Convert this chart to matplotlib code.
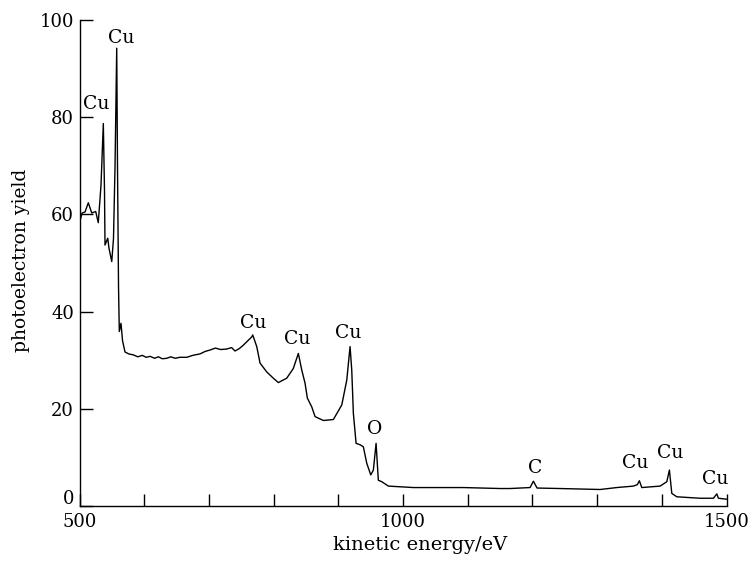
import matplotlib
matplotlib.use("Agg")
import matplotlib.pyplot as plt
from matplotlib.transforms import offset_copy

# Kinetic energy (eV) and photoelectron yield of the survey spectrum
energy = [501, 504, 508.5, 513.6, 518.9, 525, 529, 533.2, 536.8, 538.6,
          539.4, 543.6, 545.6, 549.8, 552.5, 554.9, 557.5, 558.7, 560.3, 561.5,
          564.1, 566.5, 570.3, 576, 583.2, 590, 597, 603, 609, 616,
          622, 628, 634.8, 641, 648, 655, 665.7, 675, 686.2, 694,
          701.7, 710, 718, 727.5, 735, 740.3, 747, 753.2, 760, 766.2,
          767.7, 773.9, 779, 789.3, 799.5, 807.3, 820.2, 830.4, 838.2, 843.4,
          848.5, 852.1, 858.9, 864, 876.8, 892.3, 905.3, 913, 918.1, 920.7,
          923.2, 927.4, 933.6, 938.6, 943.9, 950.1, 954.1, 958.3, 961.8, 967.1,
          977.3, 1015.9, 1093.2, 1149.9, 1165.4, 1196.3, 1201.4, 1207.1, 1242.7, 1304.5,
          1330.3, 1356, 1362, 1365.2, 1368.9, 1397.2, 1407.6, 1411.6, 1415.3, 1423,
          1459, 1479.6, 1484.9, 1487.3, 1500]
yield_ = [58.8, 60.3, 60.5, 62.4, 60.3, 60.6, 58.3, 66.0, 78.7, 65.0,
          53.7, 55.1, 53.0, 50.3, 55.0, 70.0, 94.2, 70.0, 45.0, 35.9,
          37.6, 34.0, 31.7, 31.3, 31.1, 30.7, 31.0, 30.6, 30.8, 30.4,
          30.7, 30.3, 30.4, 30.7, 30.4, 30.6, 30.6, 31.0, 31.3, 31.8,
          32.1, 32.5, 32.2, 32.3, 32.6, 31.9, 32.4, 33.1, 34.0, 34.8,
          35.2, 32.8, 29.4, 27.6, 26.3, 25.4, 26.3, 28.3, 31.4, 28.0,
          25.3, 22.2, 20.4, 18.4, 17.6, 17.8, 20.8, 25.9, 32.8, 28.0,
          19.1, 12.9, 12.6, 12.2, 8.8, 6.4, 7.4, 12.9, 5.3, 5.0,
          4.1, 3.8, 3.8, 3.6, 3.6, 3.8, 5.1, 3.7, 3.6, 3.4,
          3.8, 4.1, 4.4, 5.2, 3.8, 4.1, 5.0, 7.4, 2.6, 1.9,
          1.6, 1.6, 2.5, 1.6, 1.4]

# Peak annotations: element, energy, yield position of the label
peak_names = ["Cu", "Cu", "Cu", "Cu", "Cu", "O", "C", "Cu", "Cu", "Cu"]
peak_x = [526, 564, 768, 836, 915, 956, 1204, 1358, 1413, 1482]
peak_y = [82.7, 96.4, 37.7, 34.4, 35.7, 15.8, 7.9, 8.8, 10.9, 5.6]

x_ticks = list(range(500, 1501, 100))
x_ticklabels = ["500", "", "", "", "", "1000", "", "", "", "", "1500"]
y_ticks = [0, 20, 40, 60, 80, 100]
y_ticklabels = ["", "20", "40", "60", "80", "100"]

plt.rcParams["font.family"] = ["DejaVu Serif"]

fig = plt.figure(figsize=(7.48, 5.64), dpi=100)
ax = fig.add_axes([0.1063, 0.1028, 0.8651, 0.8617])

ax.plot(energy, yield_, color="black", lw=1.0)

for name, x, y in zip(peak_names, peak_x, peak_y):
    ax.text(x, y, name, ha="center", va="center", fontsize=13.5)

ax.set_xlim(500, 1500)
ax.set_ylim(0, 100)
ax.set_xticks(x_ticks)
ax.set_xticklabels(x_ticklabels)
ax.set_yticks(y_ticks)
ax.set_yticklabels(y_ticklabels)

ax.spines["top"].set_visible(False)
ax.spines["right"].set_visible(False)
for s in ("left", "bottom"):
    ax.spines[s].set_linewidth(1.0)

ax.tick_params(axis="both", direction="in", length=9, width=1.0,
               labelsize=13)
ax.tick_params(axis="x", pad=5)
ax.tick_params(axis="y", pad=4)

# the zero of the yield axis sits a little above the baseline
zero_tr = offset_copy(ax.get_yaxis_transform(), fig=fig, x=-4, y=5, units="points")
ax.text(0, 0, "0", transform=zero_tr, ha="right", va="center", fontsize=13)

ax.set_xlabel("kinetic energy/eV", fontsize=14)
ax.set_ylabel("photoelectron yield", fontsize=13.5)
ax.xaxis.set_label_coords(0.527, -0.062)
ax.yaxis.set_label_coords(-0.076, 0.506)

fig.savefig("out.png", dpi=100)
